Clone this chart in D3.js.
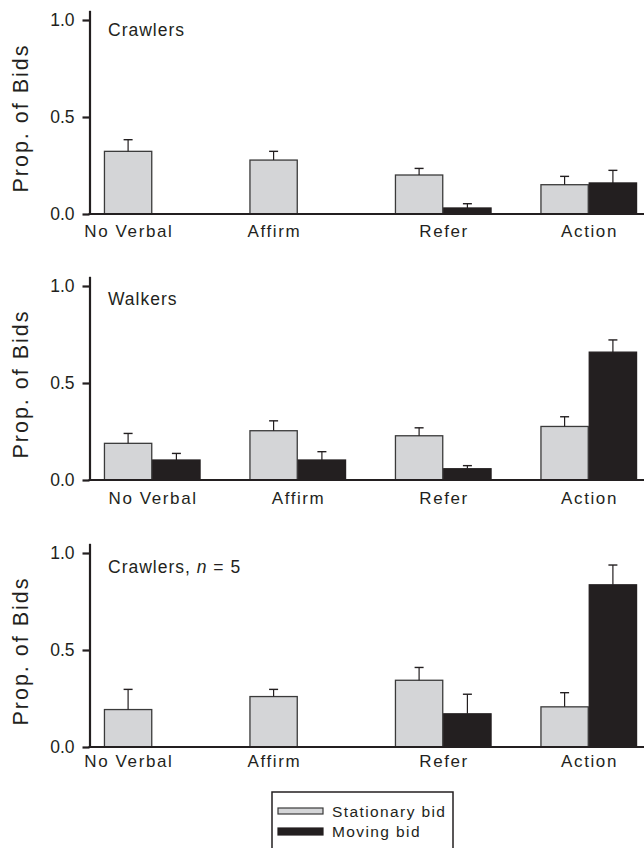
<!DOCTYPE html>
<html>
<head>
<meta charset="utf-8">
<script src="https://cdn.jsdelivr.net/npm/d3@7"></script>
<style>
  html, body { margin: 0; padding: 0; background: #fff; }
  svg { display: block; font-family: "Liberation Sans", Arial, Helvetica, sans-serif; }
</style>
</head>
<body>
<svg id="chart" width="644" height="848"></svg>
<script>
// ---------------- data ----------------
const categories = ["No Verbal", "Affirm", "Refer", "Action"];
const seriesNames = ["Stationary bid", "Moving bid"];
const yTickValues = [0, 0.5, 1.0];

const panelTitles = ["Crawlers", "Walkers", "Crawlers, n = 5"];

// Crawlers
const crawlersStationary    = [0.323, 0.278, 0.201, 0.151];
const crawlersStationaryErr = [0.060, 0.045, 0.034, 0.043];
const crawlersMoving        = [null, null, 0.031, 0.160];
const crawlersMovingErr     = [null, null, 0.022, 0.065];

// Walkers
const walkersStationary    = [0.189, 0.254, 0.228, 0.276];
const walkersStationaryErr = [0.051, 0.051, 0.041, 0.050];
const walkersMoving        = [0.103, 0.103, 0.058, 0.659];
const walkersMovingErr     = [0.034, 0.043, 0.016, 0.063];

// Crawlers, n = 5
const crawlers5Stationary    = [0.193, 0.260, 0.344, 0.207];
const crawlers5StationaryErr = [0.104, 0.037, 0.066, 0.073];
const crawlers5Moving        = [null, null, 0.171, 0.836];
const crawlers5MovingErr     = [null, null, 0.101, 0.102];

// ---------------- layout / style ----------------
const W = 644;
const axisX = 89.5;
const unitPx = 194;
const yMax = 1.05;
const panelLayout = [
  { y0: 214, titleY: 36,  labelY: 237 },
  { y0: 480, titleY: 305, labelY: 503.5 },
  { y0: 747, titleY: 573, labelY: 767 }
];
const colors = { "Stationary bid": "#d4d5d7", "Moving bid": "#231f20" };
const strokes = { "Stationary bid": "#3a3a3a", "Moving bid": "#231f20" };
const ink = "#231f20";

const panelsData = [
  { title: panelTitles[0], s: crawlersStationary,  se: crawlersStationaryErr,  m: crawlersMoving,  me: crawlersMovingErr },
  { title: panelTitles[1], s: walkersStationary,   se: walkersStationaryErr,   m: walkersMoving,   me: walkersMovingErr },
  { title: panelTitles[2], s: crawlers5Stationary, se: crawlers5StationaryErr, m: crawlers5Moving, me: crawlers5MovingErr }
];

const svg = d3.select("#chart");

const x = d3.scaleBand().domain(categories).range([79.5, 661.5]).padding(0);
const groupW = 96.6;
const xs = d3.scaleBand().domain(seriesNames).range([0, groupW]).padding(0);
const groupOffset = (x.bandwidth() - groupW) / 2;

panelsData.forEach((p, i) => {
  const L = panelLayout[i];
  const y = d3.scaleLinear().domain([0, yMax]).range([L.y0, L.y0 - yMax * unitPx]);
  const g = svg.append("g");

  const rows = categories.map((c, k) => ({
    cat: c,
    bars: [
      { series: seriesNames[0], v: p.s[k], e: p.se[k] },
      { series: seriesNames[1], v: p.m[k], e: p.me[k] }
    ].filter(b => b.v != null)
  }));

  // bars
  rows.forEach(r => {
    r.bars.forEach(b => {
      const bx = x(r.cat) + groupOffset + xs(b.series);
      g.append("rect")
        .attr("x", bx + 0.5)
        .attr("y", y(b.v))
        .attr("width", xs.bandwidth() - 1)
        .attr("height", y(0) - y(b.v))
        .attr("fill", colors[b.series])
        .attr("stroke", strokes[b.series])
        .attr("stroke-width", 1.3);
      // error bar
      const cx = bx + xs.bandwidth() / 2;
      g.append("line")
        .attr("x1", cx).attr("x2", cx)
        .attr("y1", y(b.v)).attr("y2", y(b.v + b.e))
        .attr("stroke", ink).attr("stroke-width", 1.2);
      g.append("line")
        .attr("x1", cx - 4.5).attr("x2", cx + 4.5)
        .attr("y1", y(b.v + b.e)).attr("y2", y(b.v + b.e))
        .attr("stroke", ink).attr("stroke-width", 1.4);
    });
  });

  // x axis line
  g.append("line")
    .attr("x1", axisX - 1).attr("x2", W)
    .attr("y1", y(0)).attr("y2", y(0))
    .attr("stroke", ink).attr("stroke-width", 2.2);

  // category labels centred under drawn bars
  rows.forEach(r => {
    const centers = r.bars.map(b => x(r.cat) + groupOffset + xs(b.series) + xs.bandwidth() / 2);
    g.append("text")
      .attr("x", d3.mean(centers) + 0.8)
      .attr("y", L.labelY)
      .attr("text-anchor", "middle")
      .attr("font-size", 17)
      .attr("letter-spacing", 1.6)
      .attr("fill", ink)
      .text(r.cat);
  });

  // y axis
  const yAxis = d3.axisLeft(y)
    .tickValues(yTickValues)
    .tickFormat(d3.format(".1f"))
    .tickSize(7)
    .tickSizeOuter(0)
    .tickPadding(8);
  const ya = g.append("g").attr("transform", `translate(${axisX},0)`).call(yAxis);
  ya.select(".domain").attr("stroke", ink).attr("stroke-width", 2.2);
  ya.selectAll(".tick line").attr("stroke", ink).attr("stroke-width", 2.2);
  ya.selectAll(".tick text")
    .attr("font-size", 17.5)
    .attr("fill", ink)
    .attr("font-family", "Liberation Sans, Arial, sans-serif");

  // y title
  g.append("text")
    .attr("transform", `translate(28,${y(0.5) + 1}) rotate(-90)`)
    .attr("text-anchor", "middle")
    .attr("font-size", 21.5)
    .attr("letter-spacing", 2)
    .attr("fill", ink)
    .text("Prop. of Bids");

  // panel title
  const t = g.append("text")
    .attr("x", 108)
    .attr("y", L.titleY)
    .attr("font-size", 17.5)
    .attr("letter-spacing", 1)
    .attr("fill", ink);
  if (p.title.indexOf("n = ") >= 0) {
    const parts = p.title.split("n");
    t.append("tspan").text(parts[0]);
    t.append("tspan").attr("font-style", "italic").text("n");
    t.append("tspan").text(parts.slice(1).join("n"));
  } else {
    t.text(p.title);
  }
});

// ---------------- legend ----------------
const lg = svg.append("g");
lg.append("rect")
  .attr("x", 272).attr("y", 792)
  .attr("width", 181).attr("height", 80)
  .attr("fill", "none").attr("stroke", ink).attr("stroke-width", 1.5);
seriesNames.forEach((s, i) => {
  lg.append("rect")
    .attr("x", 278).attr("y", 808 + i * 20)
    .attr("width", 45).attr("height", 6 + i)
    .attr("fill", colors[s]).attr("stroke", strokes[s]).attr("stroke-width", 1.2);
  lg.append("text")
    .attr("x", 332).attr("y", 817 + i * 20)
    .attr("font-size", 15.5)
    .attr("letter-spacing", 1.4)
    .attr("fill", ink)
    .text(s);
});
</script>
</body>
</html>
